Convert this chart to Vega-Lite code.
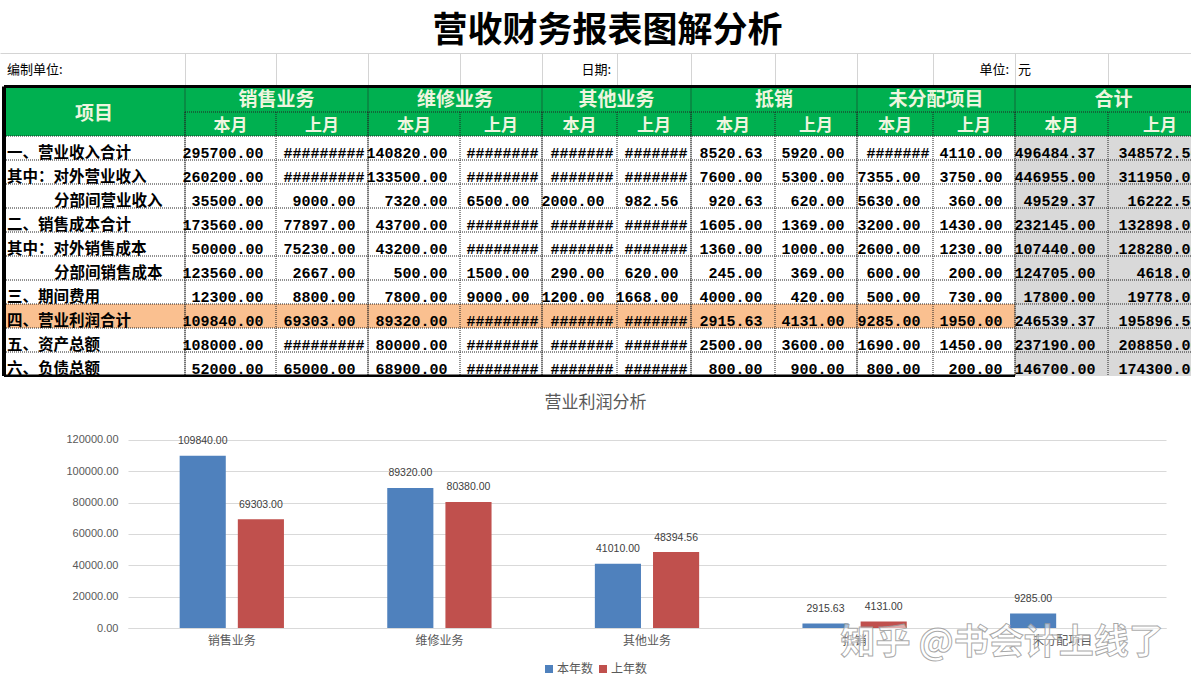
{
  "$schema": "https://vega.github.io/schema/vega-lite/v6.json",
  "background": "#ffffff",
  "padding": 0,
  "spacing": 0,
  "bounds": "flush",
  "config": {"view": {"stroke": null}, "font": "Noto Sans CJK SC"},
  "datasets": {
    "groups": [
      {"g": "项目", "c0": 0, "r1": 2},
      {"g": "销售业务", "c0": 1, "r1": 1},
      {"g": "维修业务", "c0": 3, "r1": 1},
      {"g": "其他业务", "c0": 5, "r1": 1},
      {"g": "抵销", "c0": 7, "r1": 1},
      {"g": "未分配项目", "c0": 9, "r1": 1},
      {"g": "合计", "c0": 11, "r1": 1}
    ],
    "sub": [
      {"c": 1, "label": "本月"}, {"c": 2, "label": "上月"},
      {"c": 3, "label": "本月"}, {"c": 4, "label": "上月"},
      {"c": 5, "label": "本月"}, {"c": 6, "label": "上月"},
      {"c": 7, "label": "本月"}, {"c": 8, "label": "上月"},
      {"c": 9, "label": "本月"}, {"c": 10, "label": "上月"},
      {"c": 11, "label": "本月"}, {"c": 12, "label": "上月"}
    ],
    "rows": [
      {"r": 0, "label": "一、营业收入合计"},
      {"r": 1, "label": "其中：对外营业收入"},
      {"r": 2, "label": "分部间营业收入"},
      {"r": 3, "label": "二、销售成本合计"},
      {"r": 4, "label": "其中：对外销售成本"},
      {"r": 5, "label": "分部间销售成本"},
      {"r": 6, "label": "三、期间费用"},
      {"r": 7, "label": "四、营业利润合计"},
      {"r": 8, "label": "五、资产总额"},
      {"r": 9, "label": "六、负债总额"}
    ],
    "regions": [
      {"kind": "header", "c0": 0, "c1": 13, "r0": 0, "r1": 2},
      {"kind": "profit", "c0": 0, "c1": 11, "r0": 9, "r1": 10},
      {"kind": "total", "c0": 11, "c1": 13, "r0": 2, "r1": 12}
    ],
    "cells": [
      {"r":0,"c":1,"t":"295700.00"},{"r":0,"c":2,"t":"#########"},{"r":0,"c":3,"t":"140820.00"},{"r":0,"c":4,"t":"########"},{"r":0,"c":5,"t":"#######"},{"r":0,"c":6,"t":"#######"},{"r":0,"c":7,"t":"8520.63"},{"r":0,"c":8,"t":"5920.00"},{"r":0,"c":9,"t":"#######"},{"r":0,"c":10,"t":"4110.00"},{"r":0,"c":11,"t":"496484.37"},{"r":0,"c":12,"t":"348572.50"},
      {"r":1,"c":1,"t":"260200.00"},{"r":1,"c":2,"t":"#########"},{"r":1,"c":3,"t":"133500.00"},{"r":1,"c":4,"t":"########"},{"r":1,"c":5,"t":"#######"},{"r":1,"c":6,"t":"#######"},{"r":1,"c":7,"t":"7600.00"},{"r":1,"c":8,"t":"5300.00"},{"r":1,"c":9,"t":"7355.00"},{"r":1,"c":10,"t":"3750.00"},{"r":1,"c":11,"t":"446955.00"},{"r":1,"c":12,"t":"311950.00"},
      {"r":2,"c":1,"t":"35500.00"},{"r":2,"c":2,"t":"9000.00"},{"r":2,"c":3,"t":"7320.00"},{"r":2,"c":4,"t":"6500.00"},{"r":2,"c":5,"t":"2000.00"},{"r":2,"c":6,"t":"982.56"},{"r":2,"c":7,"t":"920.63"},{"r":2,"c":8,"t":"620.00"},{"r":2,"c":9,"t":"5630.00"},{"r":2,"c":10,"t":"360.00"},{"r":2,"c":11,"t":"49529.37"},{"r":2,"c":12,"t":"16222.50"},
      {"r":3,"c":1,"t":"173560.00"},{"r":3,"c":2,"t":"77897.00"},{"r":3,"c":3,"t":"43700.00"},{"r":3,"c":4,"t":"########"},{"r":3,"c":5,"t":"#######"},{"r":3,"c":6,"t":"#######"},{"r":3,"c":7,"t":"1605.00"},{"r":3,"c":8,"t":"1369.00"},{"r":3,"c":9,"t":"3200.00"},{"r":3,"c":10,"t":"1430.00"},{"r":3,"c":11,"t":"232145.00"},{"r":3,"c":12,"t":"132898.00"},
      {"r":4,"c":1,"t":"50000.00"},{"r":4,"c":2,"t":"75230.00"},{"r":4,"c":3,"t":"43200.00"},{"r":4,"c":4,"t":"########"},{"r":4,"c":5,"t":"#######"},{"r":4,"c":6,"t":"#######"},{"r":4,"c":7,"t":"1360.00"},{"r":4,"c":8,"t":"1000.00"},{"r":4,"c":9,"t":"2600.00"},{"r":4,"c":10,"t":"1230.00"},{"r":4,"c":11,"t":"107440.00"},{"r":4,"c":12,"t":"128280.00"},
      {"r":5,"c":1,"t":"123560.00"},{"r":5,"c":2,"t":"2667.00"},{"r":5,"c":3,"t":"500.00"},{"r":5,"c":4,"t":"1500.00"},{"r":5,"c":5,"t":"290.00"},{"r":5,"c":6,"t":"620.00"},{"r":5,"c":7,"t":"245.00"},{"r":5,"c":8,"t":"369.00"},{"r":5,"c":9,"t":"600.00"},{"r":5,"c":10,"t":"200.00"},{"r":5,"c":11,"t":"124705.00"},{"r":5,"c":12,"t":"4618.00"},
      {"r":6,"c":1,"t":"12300.00"},{"r":6,"c":2,"t":"8800.00"},{"r":6,"c":3,"t":"7800.00"},{"r":6,"c":4,"t":"9000.00"},{"r":6,"c":5,"t":"1200.00"},{"r":6,"c":6,"t":"1668.00"},{"r":6,"c":7,"t":"4000.00"},{"r":6,"c":8,"t":"420.00"},{"r":6,"c":9,"t":"500.00"},{"r":6,"c":10,"t":"730.00"},{"r":6,"c":11,"t":"17800.00"},{"r":6,"c":12,"t":"19778.00"},
      {"r":7,"c":1,"t":"109840.00"},{"r":7,"c":2,"t":"69303.00"},{"r":7,"c":3,"t":"89320.00"},{"r":7,"c":4,"t":"########"},{"r":7,"c":5,"t":"#######"},{"r":7,"c":6,"t":"#######"},{"r":7,"c":7,"t":"2915.63"},{"r":7,"c":8,"t":"4131.00"},{"r":7,"c":9,"t":"9285.00"},{"r":7,"c":10,"t":"1950.00"},{"r":7,"c":11,"t":"246539.37"},{"r":7,"c":12,"t":"195896.50"},
      {"r":8,"c":1,"t":"108000.00"},{"r":8,"c":2,"t":"#########"},{"r":8,"c":3,"t":"80000.00"},{"r":8,"c":4,"t":"########"},{"r":8,"c":5,"t":"#######"},{"r":8,"c":6,"t":"#######"},{"r":8,"c":7,"t":"2500.00"},{"r":8,"c":8,"t":"3600.00"},{"r":8,"c":9,"t":"1690.00"},{"r":8,"c":10,"t":"1450.00"},{"r":8,"c":11,"t":"237190.00"},{"r":8,"c":12,"t":"208850.00"},
      {"r":9,"c":1,"t":"52000.00"},{"r":9,"c":2,"t":"65000.00"},{"r":9,"c":3,"t":"68900.00"},{"r":9,"c":4,"t":"########"},{"r":9,"c":5,"t":"#######"},{"r":9,"c":6,"t":"#######"},{"r":9,"c":7,"t":"800.00"},{"r":9,"c":8,"t":"900.00"},{"r":9,"c":9,"t":"800.00"},{"r":9,"c":10,"t":"200.00"},{"r":9,"c":11,"t":"146700.00"},{"r":9,"c":12,"t":"174300.00"}
    ],
    "profit": [
      {"cat": "销售业务", "series": "本年数", "v": 109840},
      {"cat": "销售业务", "series": "上年数", "v": 69303},
      {"cat": "维修业务", "series": "本年数", "v": 89320},
      {"cat": "维修业务", "series": "上年数", "v": 80380},
      {"cat": "其他业务", "series": "本年数", "v": 41010},
      {"cat": "其他业务", "series": "上年数", "v": 48394.56},
      {"cat": "抵销", "series": "本年数", "v": 2915.63},
      {"cat": "抵销", "series": "上年数", "v": 4131},
      {"cat": "未分配项目", "series": "本年数", "v": 9285}
    ]
  },
  "vconcat": [
    {
      "width": 1191,
      "height": 53,
      "data": {"values": [{"title": "营收财务报表图解分析"}]},
      "mark": {"type": "text", "fontSize": 35, "fontWeight": "bold", "font": "Noto Sans CJK SC", "color": "#000000", "dx": 12, "dy": 4},
      "encoding": {
        "text": {"field": "title"},
        "x": {"datum": 0.5, "type": "quantitative", "scale": {"domain": [0, 1], "nice": false, "zero": false},
              "axis": {"orient": "bottom", "domain": true, "domainColor": "#d4d4d4", "labels": false, "ticks": false, "grid": false, "title": null}}
      }
    },
    {
      "width": 1191,
      "height": 32,
      "layer": [
        {
          "data": {"values": [{"c": 0, "t": "编制单位:"}, {"c": 11, "t": "元"}]},
          "mark": {"type": "text", "align": "left", "dx": 3, "dy": 1, "fontSize": 13, "color": "#000000"},
          "encoding": {
            "x": {"field": "c", "type": "quantitative",
                  "scale": {"domain": [0,1,2,3,4,5,6,7,8,9,10,11,12,13], "range": [4,185,276,368,460,542,617,691,775,857,933,1015,1108,1212], "nice": false, "zero": false},
                  "axis": {"grid": true, "values": [1,2,3,4,5,6,7,8,9,10,11,12], "gridColor": "#d4d4d4", "domain": false, "labels": false, "ticks": false, "title": null}},
            "text": {"field": "t"}
          }
        },
        {
          "data": {"values": [{"c": 5, "t": "日期:"}, {"c": 10, "t": "单位:"}]},
          "mark": {"type": "text", "align": "right", "dx": -6, "dy": 1, "fontSize": 13, "color": "#000000"},
          "encoding": {
            "x": {"field": "c", "type": "quantitative",
                  "scale": {"domain": [1,2,3,4,5,6,7,8,9,10,11,12], "range": [276,368,460,542,617,691,775,857,933,1015,1108,1212], "nice": false, "zero": false},
                  "axis": null},
            "text": {"field": "t"}
          }
        }
      ],
      "resolve": {"scale": {"x": "independent"}}
    },
    {
      "width": 1191,
      "height": 292,
      "layer": [
        {
          "data": {"name": "regions"},
          "mark": {"type": "rect", "clip": true, "opacity": 1},
          "encoding": {
            "x": {"field": "c0", "type": "quantitative", "scale": {"domain": [0,1,2,3,4,5,6,7,8,9,10,11,12,13], "range": [4,185,276,368,460,542,617,691,775,857,933,1015,1108,1212], "nice": false, "zero": false}, "axis": null},
            "x2": {"field": "c1"},
            "y": {"field": "r0", "type": "quantitative", "scale": {"domain": [0,1,2,12], "range": [1.5,27,51,291], "nice": false, "zero": false}, "axis": null},
            "y2": {"field": "r1"},
            "color": {"field": "kind", "type": "nominal", "scale": {"domain": ["header", "profit", "total"], "range": ["#00b050", "#fac090", "#d9d9d9"]}, "legend": null}
          }
        },
        {
          "data": {"name": "groups"},
          "transform": [{"filter": "datum.c0 > 0"}],
          "mark": {"type": "rule", "strokeDash": [1, 1], "color": "#222222", "strokeWidth": 1},
          "encoding": {
            "x": {"field": "c0", "type": "quantitative", "scale": {"domain": [0,1,2,3,4,5,6,7,8,9,10,11,12,13], "range": [4,185,276,368,460,542,617,691,775,857,933,1015,1108,1212], "nice": false, "zero": false}, "axis": null},
            "y": {"datum": 0, "type": "quantitative", "scale": {"domain": [0,1,2,12], "range": [1.5,27,51,291], "nice": false, "zero": false}, "axis": null},
            "y2": {"datum": 12}
          }
        },
        {
          "data": {"name": "sub"},
          "mark": {"type": "rule", "strokeDash": [1, 1], "color": "#222222", "strokeWidth": 1},
          "encoding": {
            "x": {"field": "c", "type": "quantitative", "scale": {"domain": [0,1,2,3,4,5,6,7,8,9,10,11,12,13], "range": [4,185,276,368,460,542,617,691,775,857,933,1015,1108,1212], "nice": false, "zero": false}, "axis": null},
            "y": {"datum": 1, "type": "quantitative", "scale": {"domain": [0,1,2,12], "range": [1.5,27,51,291], "nice": false, "zero": false}, "axis": null},
            "y2": {"datum": 12}
          }
        },
        {
          "data": {"values": [{}]},
          "mark": {"type": "rule", "strokeDash": [1, 1], "color": "#222222", "strokeWidth": 1, "clip": true},
          "encoding": {
            "x": {"datum": 1, "type": "quantitative", "scale": {"domain": [0,1,2,3,4,5,6,7,8,9,10,11,12,13], "range": [4,185,276,368,460,542,617,691,775,857,933,1015,1108,1212], "nice": false, "zero": false}, "axis": null},
            "x2": {"datum": 13},
            "y": {"datum": 1, "type": "quantitative", "scale": {"domain": [0,1,2,12], "range": [1.5,27,51,291], "nice": false, "zero": false}, "axis": null}
          }
        },
        {
          "data": {"name": "rows"},
          "mark": {"type": "rule", "strokeDash": [1, 1], "color": "#222222", "strokeWidth": 1, "clip": true},
          "encoding": {
            "x": {"datum": 0, "type": "quantitative", "scale": {"domain": [0,1,2,3,4,5,6,7,8,9,10,11,12,13], "range": [4,185,276,368,460,542,617,691,775,857,933,1015,1108,1212], "nice": false, "zero": false}, "axis": null},
            "x2": {"datum": 13},
            "y": {"field": "r", "type": "quantitative", "scale": {"domain": [0, 10], "range": [51, 291], "nice": false, "zero": false}, "axis": null}
          }
        },
        {
          "data": {"values": [{}]},
          "mark": {"type": "rule", "color": "#000000", "strokeWidth": 3, "clip": true},
          "encoding": {
            "x": {"datum": 0, "type": "quantitative", "scale": {"domain": [0,1,2,3,4,5,6,7,8,9,10,11,12,13], "range": [4,185,276,368,460,542,617,691,775,857,933,1015,1108,1212], "nice": false, "zero": false}, "axis": null},
            "x2": {"datum": 13},
            "y": {"datum": 0, "type": "quantitative", "scale": {"domain": [0,1,2,12], "range": [1.5,27,51,291], "nice": false, "zero": false}, "axis": null}
          }
        },
        {
          "data": {"values": [{}]},
          "mark": {"type": "rule", "color": "#000000", "strokeWidth": 4, "clip": true},
          "encoding": {
            "x": {"datum": 0, "type": "quantitative", "scale": {"domain": [0,1,2,3,4,5,6,7,8,9,10,11,12,13], "range": [4,185,276,368,460,542,617,691,775,857,933,1015,1108,1212], "nice": false, "zero": false}, "axis": null},
            "y": {"datum": 0, "type": "quantitative", "scale": {"domain": [0,1,2,12], "range": [1.5,27,51,291], "nice": false, "zero": false}, "axis": null},
            "y2": {"datum": 12}
          }
        },
        {
          "data": {"values": [{}]},
          "mark": {"type": "rule", "color": "#000000", "strokeWidth": 3, "clip": true},
          "encoding": {
            "x": {"datum": 0, "type": "quantitative", "scale": {"domain": [0,1,2,3,4,5,6,7,8,9,10,11,12,13], "range": [4,185,276,368,460,542,617,691,775,857,933,1015,1108,1212], "nice": false, "zero": false}, "axis": null},
            "x2": {"datum": 11},
            "y": {"datum": 12, "type": "quantitative", "scale": {"domain": [0,1,2,12], "range": [1.5,27,51,291], "nice": false, "zero": false}, "axis": null}
          }
        },
        {
          "data": {"name": "groups"},
          "mark": {"type": "text", "fontSize": 19, "fontWeight": "bold", "color": "#eef5df", "baseline": "middle"},
          "encoding": {
            "x": {"field": "c0", "type": "quantitative", "scale": {"domain": [0,1,3,5,7,9,11], "range": [94,276.5,455,616.5,774,936,1113.5], "nice": false, "zero": false}, "axis": null},
            "y": {"field": "r1", "type": "quantitative", "scale": {"domain": [1, 2], "range": [15, 28.5], "nice": false, "zero": false}, "axis": null},
            "text": {"field": "g"}
          }
        },
        {
          "data": {"name": "sub"},
          "mark": {"type": "text", "fontSize": 17, "fontWeight": "bold", "color": "#eef5df", "baseline": "middle", "dy": 1.5},
          "encoding": {
            "x": {"field": "c", "type": "quantitative", "scale": {"domain": [1,2,3,4,5,6,7,8,9,10,11,12], "range": [230.5,322,414,501,579.5,654,733,816,895,974,1061.5,1160], "nice": false, "zero": false}, "axis": null},
            "y": {"datum": 1.5, "type": "quantitative", "scale": {"domain": [0,1,2,12], "range": [1.5,27,51,291], "nice": false, "zero": false}, "axis": null},
            "text": {"field": "label"}
          }
        },
        {
          "data": {"name": "rows"},
          "transform": [{"filter": "indexof(datum.label, '分部间') != 0"}],
          "mark": {"type": "text", "align": "left", "baseline": "middle", "dx": 3, "dy": 16.5, "fontSize": 15.5, "fontWeight": "bold", "color": "#000000"},
          "encoding": {
            "x": {"datum": 0, "type": "quantitative", "scale": {"domain": [0,1,2,3,4,5,6,7,8,9,10,11,12,13], "range": [4,185,276,368,460,542,617,691,775,857,933,1015,1108,1212], "nice": false, "zero": false}, "axis": null},
            "y": {"field": "r", "type": "quantitative", "scale": {"domain": [0, 10], "range": [51, 291], "nice": false, "zero": false}, "axis": null},
            "text": {"field": "label"}
          }
        },
        {
          "data": {"name": "rows"},
          "transform": [{"filter": "indexof(datum.label, '分部间') == 0"}],
          "mark": {"type": "text", "align": "left", "baseline": "middle", "dx": 50, "dy": 16.5, "fontSize": 15.5, "fontWeight": "bold", "color": "#000000"},
          "encoding": {
            "x": {"datum": 0, "type": "quantitative", "scale": {"domain": [0,1,2,3,4,5,6,7,8,9,10,11,12,13], "range": [4,185,276,368,460,542,617,691,775,857,933,1015,1108,1212], "nice": false, "zero": false}, "axis": null},
            "y": {"field": "r", "type": "quantitative", "scale": {"domain": [0, 10], "range": [51, 291], "nice": false, "zero": false}, "axis": null},
            "text": {"field": "label"}
          }
        },
        {
          "data": {"name": "cells"},
          "transform": [{"filter": "indexof(datum.t, '#') < 0"}],
          "mark": {"type": "text", "align": "right", "baseline": "middle", "dx": -12.5, "dy": 16.5, "fontSize": 15, "fontWeight": "bold", "font": "Liberation Mono", "color": "#000000", "clip": true},
          "encoding": {
            "x": {"field": "c", "type": "quantitative", "scale": {"domain": [1,2,3,4,5,6,7,8,9,10,11,12], "range": [276,368,460,542,617,691,775,857,933,1015,1108,1212], "nice": false, "zero": false}, "axis": null},
            "y": {"field": "r", "type": "quantitative", "scale": {"domain": [0, 10], "range": [51, 291], "nice": false, "zero": false}, "axis": null},
            "text": {"field": "t"}
          }
        },
        {
          "data": {"name": "cells"},
          "transform": [{"filter": "indexof(datum.t, '#') >= 0"}],
          "mark": {"type": "text", "align": "right", "baseline": "middle", "dx": -3.5, "dy": 16.5, "fontSize": 15, "fontWeight": "bold", "font": "Liberation Mono", "color": "#000000", "clip": true},
          "encoding": {
            "x": {"field": "c", "type": "quantitative", "scale": {"domain": [1,2,3,4,5,6,7,8,9,10,11,12], "range": [276,368,460,542,617,691,775,857,933,1015,1108,1212], "nice": false, "zero": false}, "axis": null},
            "y": {"field": "r", "type": "quantitative", "scale": {"domain": [0, 10], "range": [51, 291], "nice": false, "zero": false}, "axis": null},
            "text": {"field": "t"}
          }
        }
      ],
      "resolve": {"scale": {"x": "independent", "y": "independent", "color": "independent"}}
    },
    {
      "width": 1191,
      "height": 251,
      "title": {"text": "营业利润分析", "fontSize": 17, "color": "#595959", "font": "Noto Sans CJK SC", "fontWeight": "normal", "anchor": "middle", "frame": "group", "offset": -35},
      "data": {"name": "profit"},
      "encoding": {
        "x": {"field": "cat", "type": "nominal",
              "scale": {"domain": ["销售业务", "维修业务", "其他业务", "抵销", "未分配项目"], "range": [128, 1166], "paddingInner": 0, "paddingOuter": 0},
              "axis": {"title": null, "labelAngle": 0, "ticks": false, "domainColor": "#d9d9d9", "labelPadding": 7, "labelFontSize": 12, "labelColor": "#595959", "labelFont": "Noto Sans CJK SC"}},
        "y": {"field": "v", "type": "quantitative",
              "scale": {"domain": [0, 160000], "nice": false, "zero": true},
              "axis": {"title": null, "values": [0, 20000, 40000, 60000, 80000, 100000, 120000], "format": ".2f", "offset": -128, "domain": false, "ticks": false, "labelPadding": 10, "labelFontSize": 11, "labelColor": "#595959", "labelFont": "Liberation Sans", "grid": true, "gridColor": "#d9d9d9"}}
      },
      "layer": [
        {
          "mark": {"type": "bar"},
          "encoding": {
            "xOffset": {"field": "series", "type": "nominal", "scale": {"domain": ["本年数", "上年数"], "paddingInner": 0.207, "paddingOuter": 0.888}},
            "color": {"field": "series", "type": "nominal", "scale": {"domain": ["本年数", "上年数"], "range": ["#4f81bd", "#c0504d"]},
                      "legend": {"title": null, "orient": "none", "legendX": 543, "legendY": 663, "direction": "horizontal", "symbolType": "square", "symbolSize": 64, "labelFontSize": 12, "labelColor": "#595959", "labelFont": "Noto Sans CJK SC", "labelOffset": 2, "columnPadding": 3}}
          }
        },
        {
          "mark": {"type": "text", "baseline": "middle", "dy": -14.5, "fontSize": 10.5, "font": "Liberation Sans", "color": "#404040"},
          "encoding": {
            "xOffset": {"field": "series", "type": "nominal", "scale": {"domain": ["本年数", "上年数"], "paddingInner": 0.207, "paddingOuter": 0.888}},
            "text": {"field": "v", "type": "quantitative", "format": ".2f"}
          }
        },
        {
          "transform": [{"filter": "datum.cat == '抵销' && datum.series == '本年数'"}],
          "mark": {"type": "text", "align": "left", "baseline": "middle", "dx": -14, "dy": 15, "fontSize": 35, "fontWeight": "bold", "font": "Noto Sans CJK SC", "fill": "#ffffff", "fillOpacity": 0.55, "stroke": "#9a9a9a", "strokeOpacity": 0.85, "strokeWidth": 1},
          "encoding": {
            "y": {"datum": 0},
            "text": {"value": "知乎 @书会计上线了"}
          }
        }
      ]
    }
  ]
}
